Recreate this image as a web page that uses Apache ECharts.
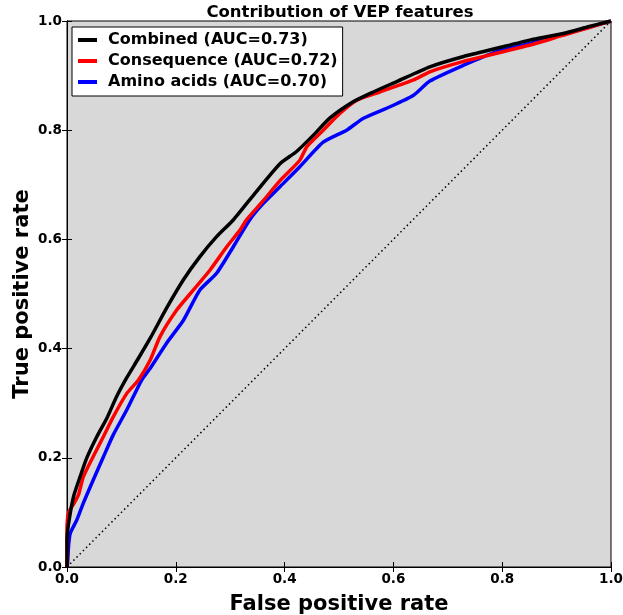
<!DOCTYPE html>
<html>
<head>
<meta charset="utf-8">
<script src="https://cdn.jsdelivr.net/npm/echarts@6/dist/echarts.min.js"></script>
<style>html,body{margin:0;padding:0;background:#fff}#c{width:623px;height:615px}</style>
</head>
<body>
<div id="c"></div>
<script>
const seriesNames = ['Combined (AUC=0.73)', 'Consequence (AUC=0.72)', 'Amino acids (AUC=0.70)'];
const xTicks = [0, 0.2, 0.4, 0.6, 0.8, 1.0];

const combinedFpr = [0,0,0.003,0.012,0.024,0.036,0.055,0.073,0.091,0.107,0.13,0.153,0.183,0.214,0.244,0.275,0.306,0.35,0.392,0.422,0.453,0.483,0.526,0.563,0.606,0.667,0.729,0.79,0.851,0.912,0.96,1];
const combinedTpr = [0,0.05,0.08,0.129,0.165,0.199,0.239,0.272,0.312,0.342,0.38,0.419,0.474,0.526,0.568,0.605,0.636,0.69,0.739,0.761,0.791,0.822,0.852,0.87,0.889,0.916,0.935,0.95,0.965,0.977,0.99,1];

const consequenceFpr = [0,0,0.003,0.012,0.021,0.03,0.048,0.067,0.085,0.11,0.131,0.153,0.171,0.202,0.232,0.263,0.294,0.318,0.33,0.36,0.392,0.428,0.441,0.471,0.502,0.533,0.575,0.637,0.667,0.729,0.79,0.851,0.912,0.96,1];
const consequenceTpr = [0,0.07,0.1,0.115,0.132,0.165,0.202,0.239,0.275,0.318,0.342,0.379,0.422,0.471,0.507,0.544,0.587,0.617,0.636,0.67,0.708,0.745,0.77,0.8,0.831,0.855,0.87,0.892,0.907,0.926,0.941,0.956,0.974,0.988,1];

const aminoFpr = [0,0.001,0.003,0.006,0.018,0.03,0.048,0.067,0.085,0.11,0.137,0.153,0.183,0.214,0.244,0.275,0.306,0.336,0.36,0.392,0.428,0.471,0.514,0.545,0.594,0.637,0.667,0.729,0.79,0.851,0.912,1];
const aminoTpr = [0,0.007,0.04,0.062,0.086,0.117,0.159,0.202,0.242,0.288,0.342,0.364,0.41,0.452,0.507,0.538,0.587,0.636,0.665,0.697,0.733,0.778,0.8,0.822,0.843,0.864,0.89,0.919,0.944,0.959,0.975,1];

const diagonalX = [0, 1];
const diagonalY = [0, 1];

const zip = (a, b) => a.map((v, i) => [v, b[i]]);
const FONT = 'DejaVu Sans';

const chart = echarts.init(document.getElementById('c'), null, {renderer: 'canvas'});
const axisCommon = {
  type: 'value', min: 0, max: 1, interval: 0.2,
  splitLine: {show: false},
  axisLine: {show: true, lineStyle: {color: '#000', width: 1}},
  axisTick: {show: true, inside: true, length: 5, lineStyle: {color: '#000'}}
};
chart.setOption({
  animation: false,
  backgroundColor: '#fff',
  title: {
    text: 'Contribution of VEP features',
    left: 335, top: -1, textAlign: 'center',
    textStyle: {fontFamily: FONT, fontWeight: 'bold', fontSize: 16.5, color: '#000'}
  },
  grid: {left: 67, right: 12, top: 21, bottom: 48, containLabel: false, outerBoundsMode: 'none',
         show: true, backgroundColor: '#d8d8d8', borderColor: '#000', borderWidth: 1},
  legend: {
    data: seriesNames,
    orient: 'vertical', left: 72, top: 27,
    backgroundColor: '#fff', borderColor: '#000', borderWidth: 1, borderRadius: 0,
    padding: [5, 5, 6, 6], itemGap: 5, itemWidth: 19, itemHeight: 4, icon: 'rect',
    textStyle: {fontFamily: FONT, fontWeight: 'bold', fontSize: 16, lineHeight: 16, color: '#000', padding: [0, 0, 0, 6]}
  },
  xAxis: [
    Object.assign({}, axisCommon, {
      position: 'bottom',
      name: 'False positive rate', nameLocation: 'middle', nameGap: 27, nameMoveOverlap: false,
      nameTextStyle: {fontFamily: FONT, fontWeight: 'bold', fontSize: 21, color: '#000'},
      axisLabel: {fontFamily: FONT, fontWeight: 'bold', fontSize: 13.5, color: '#000', margin: 5, formatter: v => v.toFixed(1)}
    }),
    Object.assign({}, axisCommon, {position: 'top', axisLabel: {show: false}})
  ],
  yAxis: [
    Object.assign({}, axisCommon, {
      position: 'left',
      name: 'True positive rate', nameLocation: 'middle', nameGap: 34, nameMoveOverlap: false,
      nameTextStyle: {fontFamily: FONT, fontWeight: 'bold', fontSize: 21, color: '#000'},
      axisLabel: {fontFamily: FONT, fontWeight: 'bold', fontSize: 13.5, color: '#000', margin: 5, formatter: v => v.toFixed(1)}
    }),
    Object.assign({}, axisCommon, {position: 'right', axisLabel: {show: false}})
  ],
  series: [
    {name: 'diagonal', type: 'line', data: zip(diagonalX, diagonalY), showSymbol: false, silent: true,
     lineStyle: {color: '#000', width: 1.5, type: [1.5, 3]}, z: 1},
    {name: seriesNames[2], type: 'line', data: zip(aminoFpr, aminoTpr), showSymbol: false, smooth: 0.2,
     lineStyle: {color: '#0000ff', width: 3.5}, itemStyle: {color: '#0000ff'}, z: 2},
    {name: seriesNames[1], type: 'line', data: zip(consequenceFpr, consequenceTpr), showSymbol: false, smooth: 0.2,
     lineStyle: {color: '#ff0000', width: 3.5}, itemStyle: {color: '#ff0000'}, z: 3},
    {name: seriesNames[0], type: 'line', data: zip(combinedFpr, combinedTpr), showSymbol: false, smooth: 0.2,
     lineStyle: {color: '#000000', width: 3.5}, itemStyle: {color: '#000000'}, z: 4}
  ]
});
</script>
</body>
</html>
